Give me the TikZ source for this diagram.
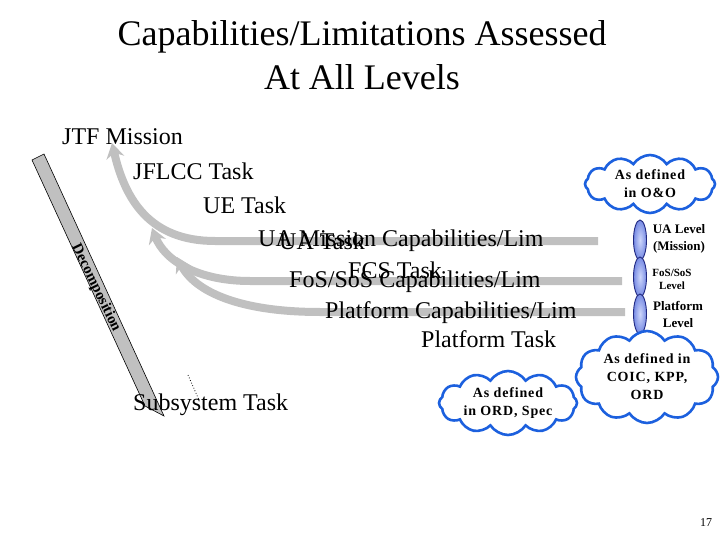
\documentclass[tikz,border=0pt]{standalone}
\usepackage{fontspec}
\setmainfont{Liberation Serif}
\usetikzlibrary{arrows.meta,shapes.symbols,shapes.geometric}
\definecolor{cloudblue}{RGB}{28,96,222}
\definecolor{bargray}{RGB}{192,192,192}
\definecolor{beadline}{RGB}{32,40,128}
\definecolor{beadfill}{RGB}{118,138,228}
\definecolor{beadlight}{RGB}{205,214,250}
\tikzset{
	task/.style={anchor=base west, inner sep=0pt, font=\fontsize{24}{28}\selectfont},
	flow/.style={draw=bargray, line width=8pt, -{Stealth[length=15pt,width=18pt,inset=5pt]}},
	note/.style={cloud, cloud puffs=12, cloud puff arc=115, cloud ignores aspect, draw=cloudblue, line width=2.6pt, fill=white, align=center, inner sep=0pt, font=\fontsize{14}{18}\selectfont\bfseries\addfontfeature{LetterSpace=6}},
	bead/.style={ellipse, draw=beadline, line width=0.9pt, inner color=beadlight, outer color=beadfill, minimum width=13pt, minimum height=40pt, inner sep=0pt},
	level/.style={align=center, inner sep=0pt, font=\fontsize{13}{17}\selectfont\bfseries}
}

\begin{document}
\begin{tikzpicture}[x=1pt, y=-1pt]
			%%%%% START %%%%%
			\useasboundingbox (0, 0) rectangle (720, 540);
			
			\node[align=center, inner sep=0pt, font=\fontsize{36}{44}\selectfont] (title) at (362, 55) {Capabilities/Limitations Assessed\\At All Levels};
			
			% grey flow arrows
			\coordinate (ua bar) at (598, 241);
			\coordinate (fos bar) at (622, 281);
			\coordinate (plat bar) at (625, 312);
			\coordinate (jtf tip) at (112, 143);
			\coordinate (fos tip) at (152, 228);
			\coordinate (plat tip) at (177, 257);
			\draw[flow] (ua bar) -- (215, 241) .. controls (150, 241) and (125, 200) .. (jtf tip);
			\draw[flow] (fos bar) -- (250, 281) .. controls (200, 281) and (165, 262) .. (fos tip);
			\draw[flow] (plat bar) -- (320, 312) .. controls (240, 312) and (195, 292) .. (plat tip);
			
			% decomposition bar
			\draw[fill=bargray, line width=0.6pt] (32, 160) -- (44, 154) -- (164, 416) -- (145, 406) -- cycle;
			\node[rotate=-64, inner sep=0pt, font=\fontsize{15}{15}\selectfont\bfseries] (decomp) at (96, 288) {Decomposition};
			
			\node[task] (jtf) at (62, 145) {JTF Mission};
			\node[task] (jflcc) at (133, 180) {JFLCC Task};
			\node[task] (ue) at (203, 214) {UE Task};
			\node[task] (ua cap) at (258, 247) {UA Mission Capabilities/Lim};
			\node[task] (ua task) at (279, 249) {UA Task};
			\node[task] (fcs task) at (348, 278) {FCS Task};
			\node[task] (fos cap) at (289, 287) {FoS/SoS Capabilities/Lim};
			\node[task] (plat cap) at (325, 318) {Platform Capabilities/Lim};
			\node[task] (plat task) at (421, 347) {Platform Task};
			\node[task] (subsys) at (133, 410) {Subsystem Task};
			
			\coordinate (sub top) at (188, 375);
			\coordinate (sub end) at (199, 400);
			\draw[dotted, line width=0.8pt] (sub top) -- (sub end);
			
			% levels
			\node[bead] (bead ua) at (640, 240) {};
			\node[bead] (bead fos) at (640, 277) {};
			\node[bead] (bead plat) at (640, 314) {};
			\node[level] (lvl ua) at (679, 239) {UA Level\\(Mission)};
			\node[level, font=\fontsize{11}{13}\selectfont\bfseries] (lvl fos) at (672, 279) {FoS/SoS\\Level};
			\node[level] (lvl plat) at (678, 314) {Platform\\Level};
			
			% clouds
			\node[note, minimum width=130pt, minimum height=58pt] (oo) at (650, 184) {As defined\\in O\&O};
			\node[note, minimum width=142pt, minimum height=92pt] (coic) at (647, 377) {As defined in\\COIC, KPP,\\ORD};
			\node[note, minimum width=138pt, minimum height=64pt] (ord) at (508, 403) {As defined\\in ORD, Spec};
			
			\node[inner sep=0pt, font=\fontsize{12}{12}\selectfont] (page) at (706, 523) {17};
			%%%%% END %%%%%
\end{tikzpicture}
\end{document}
